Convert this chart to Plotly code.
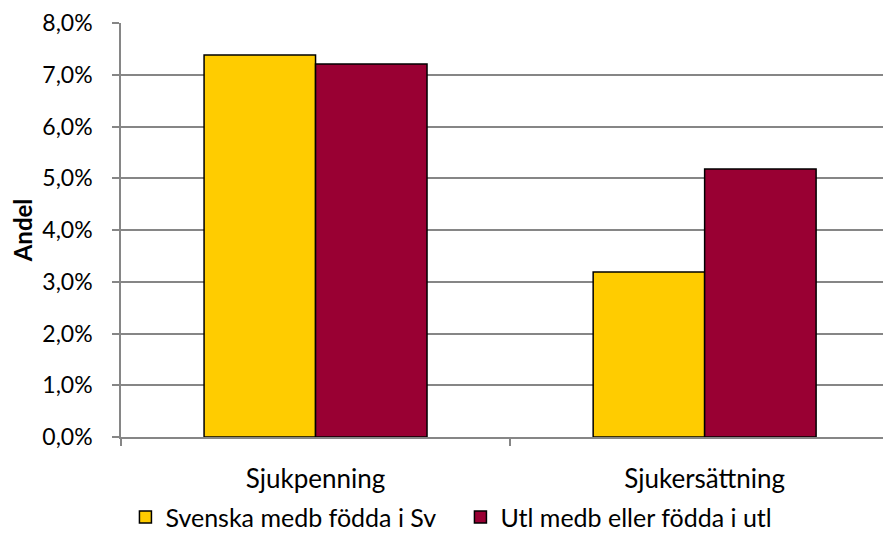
import plotly.graph_objects as go

categories = ["Sjukpenning", "Sjukersättning"]
series_names = ["Svenska medb födda i Sv", "Utl medb eller födda i utl"]
svenska = [7.38, 3.19]
utl = [7.21, 5.18]
colors = ["#FFCC00", "#990033"]
y_ticks = [0, 1, 2, 3, 4, 5, 6, 7, 8]
y_ticklabels = ["0,0%", "1,0%", "2,0%", "3,0%", "4,0%", "5,0%", "6,0%", "7,0%", "8,0%"]

FONT = "Lato"

fig = go.Figure()
for name, vals, col in zip(series_names, [svenska, utl], colors):
    fig.add_trace(go.Bar(
        x=categories, y=vals, name=name,
        marker=dict(color=col, line=dict(color="#000000", width=1.5)),
    ))

# page body has an 8px margin; figure sized to fill the rest of the window
fig.update_layout(
    width=883, height=536,
    margin=dict(l=113, r=0, t=15, b=107),
    paper_bgcolor="white", plot_bgcolor="white",
    barmode="group", bargap=0.427, bargroupgap=0,
    font=dict(family=FONT, size=20, color="#000000"),
    showlegend=True,
    legend=dict(
        orientation="h", xref="container", x=0.133, xanchor="left",
        yref="container", y=0.05, yanchor="middle",
        font=dict(family=FONT, size=25, color="#000000"),
        itemwidth=30, traceorder="normal", entrywidth=290,
    ),
)
fig.update_xaxes(
    type="category", range=[-0.5, 1.479], automargin=False,
    showgrid=False, showline=True, linecolor="#868686", linewidth=1.5,
    ticks="outside", tickson="boundaries", ticklen=7, tickcolor="#868686", tickwidth=1.5,
    tickfont=dict(family=FONT, size=26), ticklabelstandoff=18,
)
fig.update_yaxes(
    range=[0, 8], tickvals=y_ticks, ticktext=y_ticklabels, automargin=False,
    showgrid=True, gridcolor="#868686", gridwidth=1.6,
    showline=True, linecolor="#868686", linewidth=1.5,
    ticks="outside", ticklen=7, tickcolor="#868686", tickwidth=1.5,
    tickfont=dict(family=FONT, size=23), ticklabelstandoff=15,
    zeroline=False,
    title=dict(text="<b>Andel</b>", font=dict(family=FONT, size=24), standoff=17),
)

fig.write_html("out.html")
